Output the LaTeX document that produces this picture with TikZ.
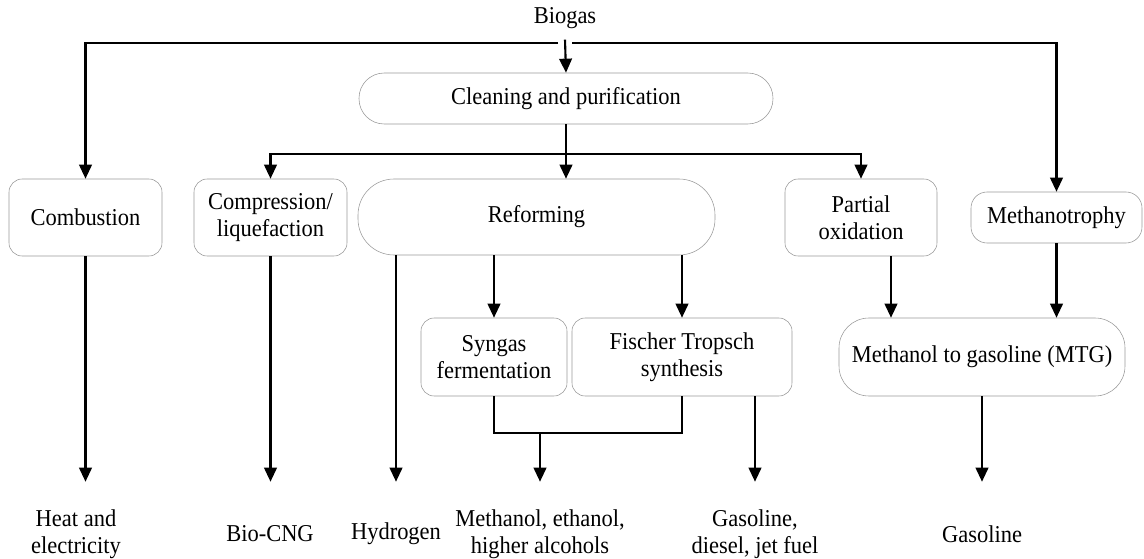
\documentclass[tikz,border=0pt]{standalone}
\usepackage{fontspec}
\setmainfont{Liberation Serif}[FakeStretch=0.93]
\usetikzlibrary{arrows.meta, positioning}

\begin{document}
\begin{tikzpicture}[>={Triangle[width=9pt,length=10pt]},
    font=\fontsize{17.2}{19.5}\selectfont,
    box/.style={draw=gray!80, thin, rounded corners=0.33cm, align=center, minimum height=1.925cm},
    product/.style={align=center, inner sep=0pt, minimum height=2.6cm},
    arr/.style={->, line width=1.5pt},
    lin/.style={line width=1.5pt}]
    \useasboundingbox (0,0) rectangle (28.6,-13.975);

    % 1. Source and first stage
    \node (bio) at (14.125,-0.45) {Biogas};
    \node[box, rounded corners=0.63cm, minimum width=10.35cm, minimum height=1.275cm] (clean) at (14.15,-2.4625) {Cleaning and purification};

    % 2. Conversion routes
    \node[box, minimum width=3.825cm] (comb) at (2.1375,-5.4375) {Combustion};
    \node[box, minimum width=3.825cm] (comp) at (6.7625,-5.4375) {Compression/\\liquefaction};
    \node[box, rounded corners=0.9cm, minimum width=8.925cm, minimum height=1.9cm] (ref) at (13.4125,-5.425) {Reforming};
    \node[box, minimum width=3.8cm] (part) at (21.525,-5.4375) {Partial\\oxidation};
    \node[box, rounded corners=0.4cm, minimum width=4.275cm, minimum height=1.275cm] (metro) at (26.4125,-5.4375) {Methanotrophy};

    % 3. Second stage
    \node[box, minimum width=3.65cm, minimum height=1.95cm] (syn) at (12.35,-8.925) {Syngas\\fermentation};
    \node[box, minimum width=5.5cm, minimum height=1.95cm] (ft) at (17.05,-8.925) {Fischer Tropsch\\synthesis};
    \node[box, rounded corners=0.75cm, minimum width=7.15cm, minimum height=1.95cm] (mtg) at (24.55,-8.925) {Methanol to gasoline (MTG)};

    % 4. Products
    \node[product] (heat) at (1.9,-13.35) {Heat and\\electricity};
    \node[product] (cng) at (6.75,-13.35) {Bio-CNG};
    \node[product] (hyd) at (9.9,-13.35) {Hydrogen};
    \node[product] (alc) at (13.5,-13.35) {Methanol, ethanol,\\higher alcohols};
    \node[product] (fuel) at (18.875,-13.35) {Gasoline,\\diesel, jet fuel};
    \node[product] (gas) at (24.55,-13.35) {Gasoline};

    % 5. Branch points
    \coordinate (tl) at (13.95,-1.075);
    \coordinate (tr) at (14.3,-1.075);
    \coordinate (split) at (14.15,-3.85);
    \coordinate (join) at (13.5,-10.825);

    % 6. Top connectors
    \draw[arr] ([yshift=-0.15cm]bio.south) -- (clean.north);
    \draw[arr] (tl) -| (comb.north);
    \draw[arr] (tr) -| (metro.north);
    \draw[arr] (clean.south) -- (clean.south |- ref.north);
    \draw[arr] (split) -| (comp.north);
    \draw[arr] (split) -| (part.north);

    % 7. Reforming branches
    \draw[arr] (syn.north |- ref.south) -- (syn.north);
    \draw[arr] (ft.north |- ref.south) -- (ft.north);
    \draw[lin] (syn.south) |- (ft.south |- join) -- (ft.south);
    \draw[arr] (join) -- (alc.north);
    \draw[arr] (fuel.north |- ft.south) -- (fuel.north);
    \draw[arr] (hyd.north |- ref.south) -- (hyd.north);

    % 8. MTG route
    \draw[arr] ([xshift=0.75cm]part.south) -- ([xshift=0.75cm]part.south |- mtg.north);
    \draw[arr] (metro.south) -- (metro.south |- mtg.north);

    % 9. Product arrows
    \draw[arr] (comb.south) -- (comb.south |- heat.north);
    \draw[arr] (comp.south) -- (comp.south |- cng.north);
    \draw[arr] (mtg.south) -- (gas.north);
\end{tikzpicture}
\end{document}
